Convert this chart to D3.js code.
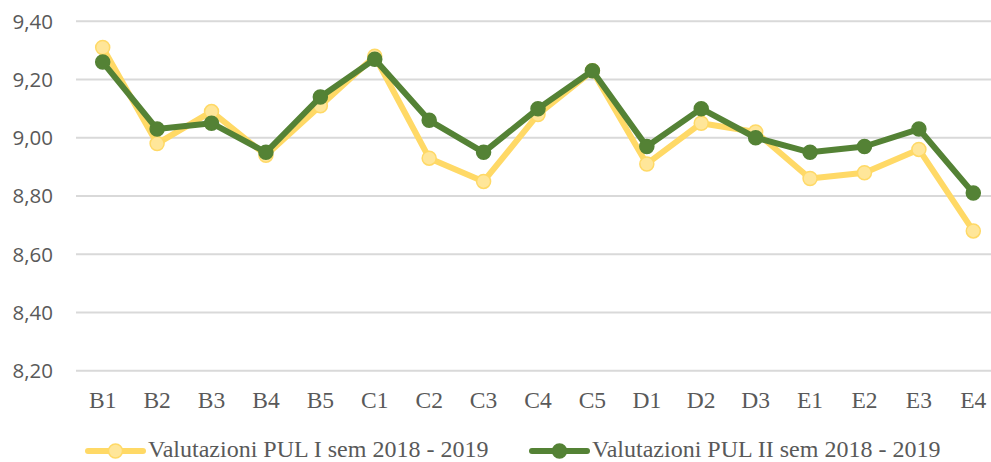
<!DOCTYPE html>
<html>
<head>
<meta charset="utf-8">
<script src="https://cdn.jsdelivr.net/npm/d3@7"></script>
<style>
  body { margin: 0; background: #fff; }
  svg { display: block; }
  .y-label { font-family: "Open Sans", sans-serif; font-size: 20.5px; fill: #595959; }
  .x-label { font-family: "Liberation Serif", "Times New Roman", serif; font-size: 23.5px; fill: #595959; }
  .legend-label { font-family: "Liberation Serif", "Times New Roman", serif; font-size: 24px; fill: #595959; }
</style>
</head>
<body>
<svg id="chart"></svg>
<script>
// data
const categories = ["B1", "B2", "B3", "B4", "B5", "C1", "C2", "C3", "C4", "C5",
                    "D1", "D2", "D3", "E1", "E2", "E3", "E4"];
const semI  = [9.31, 8.98, 9.09, 8.94, 9.11, 9.28, 8.93, 8.85, 9.08, 9.23,
               8.91, 9.05, 9.02, 8.86, 8.88, 8.96, 8.68];
const semII = [9.26, 9.03, 9.05, 8.95, 9.14, 9.27, 9.06, 8.95, 9.10, 9.23,
               8.97, 9.10, 9.00, 8.95, 8.97, 9.03, 8.81];
const yTicks = [8.2, 8.4, 8.6, 8.8, 9.0, 9.2, 9.4];
const seriesNames = ["Valutazioni PUL I sem 2018 - 2019", "Valutazioni PUL II sem 2018 - 2019"];

const width = 991, height = 462;

const svg = d3.select("#chart")
    .attr("width", width)
    .attr("height", height);

const x = d3.scalePoint()
    .domain(categories)
    .range([102.7, 973.3]);

const y = d3.scaleLinear()
    .domain([8.2, 9.4])
    .range([370.7, 21.3]);

const fmt = v => d3.format(".2f")(v).replace(".", ",");

// gridlines
svg.append("g")
    .selectAll("line")
    .data(yTicks)
    .enter()
    .append("line")
    .attr("x1", 76)
    .attr("x2", width)
    .attr("y1", d => y(d))
    .attr("y2", d => y(d))
    .attr("stroke", "#d9d9d9")
    .attr("stroke-width", 2);

// y labels
svg.append("g")
    .selectAll("text")
    .data(yTicks)
    .enter()
    .append("text")
    .attr("class", "y-label")
    .attr("x", 53)
    .attr("y", d => y(d))
    .attr("dy", "0.36em")
    .attr("text-anchor", "end")
    .text(d => fmt(d));

// x labels
svg.append("g")
    .selectAll("text")
    .data(categories)
    .enter()
    .append("text")
    .attr("class", "x-label")
    .attr("x", d => x(d))
    .attr("y", 407.5)
    .attr("text-anchor", "middle")
    .text(d => d);

const series = [
    { name: seriesNames[0], values: semI,  line: "#ffd966", fill: "#ffe699", r: 7 },
    { name: seriesNames[1], values: semII, line: "#548235", fill: "#548235", r: 7 }
];

const line = d3.line()
    .x((d, i) => x(categories[i]))
    .y(d => y(d));

series.forEach(s => {
    const g = svg.append("g");
    g.append("path")
        .datum(s.values)
        .attr("d", line)
        .attr("fill", "none")
        .attr("stroke", s.line)
        .attr("stroke-width", 6)
        .attr("stroke-linejoin", "round")
        .attr("stroke-linecap", "round");
    g.selectAll("circle")
        .data(s.values)
        .enter()
        .append("circle")
        .attr("cx", (d, i) => x(categories[i]))
        .attr("cy", d => y(d))
        .attr("r", s.r)
        .attr("fill", s.fill)
        .attr("stroke", s.line)
        .attr("stroke-width", 1.5);
});

// legend
const legendItems = [
    { s: series[0], x0: 88, textX: 148 },
    { s: series[1], x0: 532, textX: 592 }
];
legendItems.forEach(item => {
    const g = svg.append("g");
    g.append("line")
        .attr("x1", item.x0)
        .attr("x2", item.x0 + 55)
        .attr("y1", 451)
        .attr("y2", 451)
        .attr("stroke", item.s.line)
        .attr("stroke-width", 6)
        .attr("stroke-linecap", "round");
    g.append("circle")
        .attr("cx", item.x0 + 27.5)
        .attr("cy", 451)
        .attr("r", item.s.r)
        .attr("fill", item.s.fill)
        .attr("stroke", item.s.line)
        .attr("stroke-width", 1.5);
    g.append("text")
        .attr("class", "legend-label")
        .attr("x", item.textX)
        .attr("y", 457)
        .text(item.s.name);
});
</script>
</body>
</html>
